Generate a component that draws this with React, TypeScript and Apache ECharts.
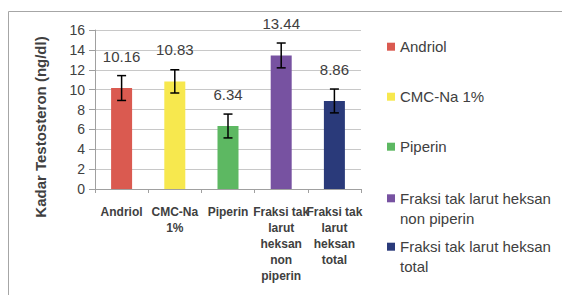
import React, { useEffect, useRef } from "react";
import * as echarts from "echarts";

const categories = [
  "Andriol",
  "CMC-Na 1%",
  "Piperin",
  "Fraksi tak larut heksan non piperin",
  "Fraksi tak larut heksan total",
];
const categoryLabels = [
  "Andriol",
  "CMC-Na\n1%",
  "Piperin",
  "Fraksi tak\nlarut\nheksan\nnon\npiperin",
  "Fraksi tak\nlarut\nheksan\ntotal",
];
const legendLines = [
  ["Andriol"],
  ["CMC-Na 1%"],
  ["Piperin"],
  ["Fraksi tak larut heksan", "non piperin"],
  ["Fraksi tak larut heksan", "total"],
];
const values = [10.16, 10.83, 6.34, 13.44, 8.86];
const errors = [1.25, 1.17, 1.2, 1.25, 1.2];
const colors = ["#DA5A50", "#F7E84E", "#5DB862", "#7752A1", "#2A3A7A"];
const yMin = 0;
const yMax = 16;
const yInterval = 2;
const yTitle = "Kadar Testosteron (ng/dl)";

const FONT = "'Liberation Sans', Arial, sans-serif";
const TEXT = "#404040";
const legendCenters = [46.7, 96.7, 146.7, 198.3, 246.7];
const LEGEND_LH = 18;

export default function App() {
  const ref = useRef<HTMLDivElement>(null);
  useEffect(() => {
    if (!ref.current) return;
    const chart = echarts.init(ref.current, null, { renderer: "svg" });

    const barSeries = categories.map((name, i) => ({
      name,
      type: "bar",
      stack: "all",
      barWidth: 21,
      itemStyle: { color: colors[i] },
      data: values.map((v, j) => (j === i ? v : "-")),
      label: {
        show: true,
        position: "top",
        distance: 24,
        color: TEXT,
        fontSize: 15,
        fontFamily: FONT,
        formatter: (p: any) => Number(p.value).toFixed(2),
      },
    }));

    const errorSeries = {
      type: "custom",
      name: "error",
      z: 10,
      data: values.map((v, i) => [i, v - errors[i], v + errors[i]]),
      renderItem: (params: any, api: any) => {
        const x = api.value(0);
        const lo = api.coord([x, api.value(1)]);
        const hi = api.coord([x, api.value(2)]);
        const hw = 4.5;
        const style = { stroke: "#000", lineWidth: 1.5 };
        return {
          type: "group",
          children: [
            { type: "line", shape: { x1: lo[0], y1: lo[1], x2: hi[0], y2: hi[1] }, style },
            { type: "line", shape: { x1: lo[0] - hw, y1: lo[1], x2: lo[0] + hw, y2: lo[1] }, style },
            { type: "line", shape: { x1: hi[0] - hw, y1: hi[1], x2: hi[0] + hw, y2: hi[1] }, style },
          ],
        };
      },
    };

    const legends = categories.map((name, i) => ({
      data: [name],
      left: 387,
      top: legendCenters[i] - LEGEND_LH / 2,
      padding: 0,
      orient: "vertical",
      icon: "rect",
      itemWidth: 8,
      itemHeight: 8,
      selectedMode: false,
      textStyle: { fontSize: 15, color: TEXT, fontFamily: FONT, lineHeight: LEGEND_LH },
      formatter: (n: string) => legendLines[categories.indexOf(n)][0],
    }));

    const secondLines: any[] = [];
    legendLines.forEach((lines, i) => {
      if (lines.length > 1) {
        secondLines.push({
          type: "text",
          left: 400,
          top: legendCenters[i] + 20 - LEGEND_LH / 2,
          style: {
            text: lines[1],
            fill: TEXT,
            font: `15px ${FONT}`,
            lineHeight: LEGEND_LH,
          },
        });
      }
    });

    chart.setOption({
      animation: false,
      backgroundColor: "#fff",
      grid: { left: 95, top: 30, width: 266, height: 159 },
      legend: legends,
      graphic: [
        {
          type: "rect",
          shape: { x: 8.5, y: 11.5, width: 600, height: 300 },
          style: { fill: "none", stroke: "#a6a6a6", lineWidth: 1 },
          silent: true,
        },
        {
          type: "text",
          x: 40,
          y: 127,
          rotation: Math.PI / 2,
          style: {
            text: yTitle,
            fill: TEXT,
            font: `bold 15px ${FONT}`,
            align: "center",
            verticalAlign: "middle",
          },
        },
        ...secondLines,
      ],
      xAxis: {
        type: "category",
        data: categories,
        axisLine: { lineStyle: { color: "#a0a0a0" } },
        axisTick: { show: true, length: 4, lineStyle: { color: "#a0a0a0" } },
        axisLabel: {
          interval: 0,
          margin: 15,
          color: TEXT,
          fontSize: 12,
          fontWeight: "bold",
          fontFamily: FONT,
          lineHeight: 16,
          formatter: (v: string) => categoryLabels[categories.indexOf(v)],
        },
      },
      yAxis: {
        type: "value",
        min: yMin,
        max: yMax,
        interval: yInterval,
        axisLine: { show: true, lineStyle: { color: "#a0a0a0" } },
        axisTick: { show: true, length: 6, lineStyle: { color: "#a0a0a0" } },
        splitLine: { lineStyle: { color: "#c8c8c8" } },
        axisLabel: { color: TEXT, fontSize: 14, fontFamily: FONT, margin: 10 },
      },
      series: [...barSeries, errorSeries],
    });
    return () => chart.dispose();
  }, []);
  return (
    <div
      ref={ref}
      style={{ position: "fixed", left: 0, top: 0, width: 562, height: 295 }}
    />
  );
}
